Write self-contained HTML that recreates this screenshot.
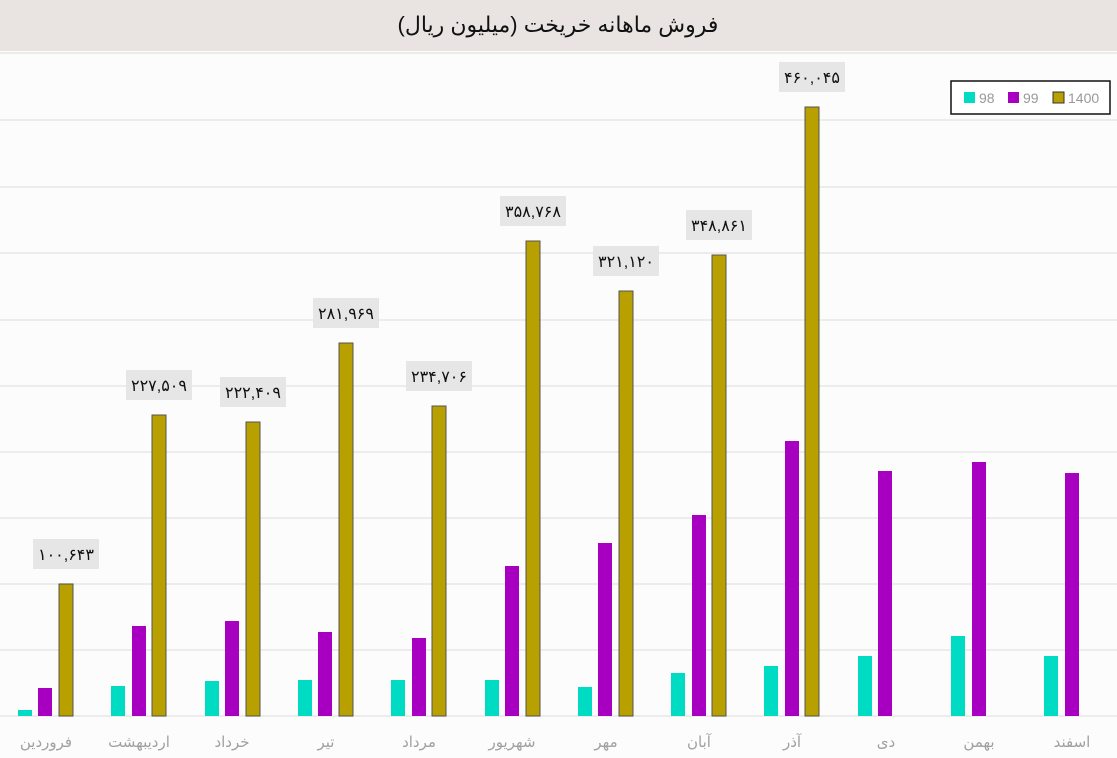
<!DOCTYPE html>
<html><head><meta charset="utf-8"><style>
body{margin:0;background:#fcfcfc;}
svg{display:block;font-family:"Liberation Sans","DejaVu Sans",sans-serif;}
</style></head><body>
<svg width="1117" height="758" viewBox="0 0 1117 758" xmlns="http://www.w3.org/2000/svg">
<rect width="1117" height="758" fill="#fcfcfc"/>
<rect width="1117" height="51" fill="#e9e4e2"/>
<text x="558" y="32" text-anchor="middle" font-size="22" fill="#111">فروش ماهانه خریخت (میلیون ریال)</text>
<g stroke="#ececec" stroke-width="2">
<line x1="0" x2="1117" y1="53" y2="53"/><line x1="0" x2="1117" y1="120" y2="120"/>
<line x1="0" x2="1117" y1="187" y2="187"/><line x1="0" x2="1117" y1="253" y2="253"/>
<line x1="0" x2="1117" y1="320" y2="320"/><line x1="0" x2="1117" y1="386" y2="386"/>
<line x1="0" x2="1117" y1="452" y2="452"/><line x1="0" x2="1117" y1="518" y2="518"/>
<line x1="0" x2="1117" y1="584" y2="584"/><line x1="0" x2="1117" y1="650" y2="650"/>
<line x1="0" x2="1117" y1="716" y2="716"/>
</g>
<g fill="#00dcc4">
<rect x="18" y="710" width="14" height="6"/><rect x="111" y="686" width="14" height="30"/>
<rect x="205" y="681" width="14" height="35"/><rect x="298" y="680" width="14" height="36"/>
<rect x="391" y="680" width="14" height="36"/><rect x="485" y="680" width="14" height="36"/>
<rect x="578" y="687" width="14" height="29"/><rect x="671" y="673" width="14" height="43"/>
<rect x="764" y="666" width="14" height="50"/><rect x="858" y="656" width="14" height="60"/>
<rect x="951" y="636" width="14" height="80"/><rect x="1044" y="656" width="14" height="60"/>
</g>
<g fill="#a800c0">
<rect x="38" y="688" width="14" height="28"/><rect x="132" y="626" width="14" height="90"/>
<rect x="225" y="621" width="14" height="95"/><rect x="318" y="632" width="14" height="84"/>
<rect x="412" y="638" width="14" height="78"/><rect x="505" y="566" width="14" height="150"/>
<rect x="598" y="543" width="14" height="173"/><rect x="692" y="515" width="14" height="201"/>
<rect x="785" y="441" width="14" height="275"/><rect x="878" y="471" width="14" height="245"/>
<rect x="972" y="462" width="14" height="254"/><rect x="1065" y="473" width="14" height="243"/>
</g>
<g fill="#b8a000" stroke="#555" stroke-width="1">
<rect x="59" y="584" width="14" height="132"/><rect x="152" y="415" width="14" height="301"/>
<rect x="246" y="422" width="14" height="294"/><rect x="339" y="343" width="14" height="373"/>
<rect x="432" y="406" width="14" height="310"/><rect x="526" y="241" width="14" height="475"/>
<rect x="619" y="291" width="14" height="425"/><rect x="712" y="255" width="14" height="461"/>
<rect x="805" y="107" width="14" height="609"/>
</g>
<g fill="#e6e6e6">
<rect x="33" y="539" width="66" height="30"/><rect x="126" y="370" width="66" height="30"/>
<rect x="220" y="377" width="66" height="30"/><rect x="313" y="298" width="66" height="30"/>
<rect x="406" y="361" width="66" height="30"/><rect x="500" y="196" width="66" height="30"/>
<rect x="593" y="246" width="66" height="30"/><rect x="686" y="210" width="66" height="30"/>
<rect x="779" y="62" width="66" height="30"/>
</g>
<g font-size="16" fill="#111" text-anchor="middle">
<text x="66" y="560">۱۰۰,۶۴۳</text><text x="159" y="391">۲۲۷,۵۰۹</text>
<text x="253" y="398">۲۲۲,۴۰۹</text><text x="346" y="319">۲۸۱,۹۶۹</text>
<text x="439" y="382">۲۳۴,۷۰۶</text><text x="533" y="217">۳۵۸,۷۶۸</text>
<text x="626" y="267">۳۲۱,۱۲۰</text><text x="719" y="231">۳۴۸,۸۶۱</text>
<text x="812" y="83">۴۶۰,۰۴۵</text>
</g>
<g font-size="15" fill="#a0a0a0" text-anchor="middle">
<text x="46" y="747">فروردین</text><text x="139" y="747">اردیبهشت</text><text x="232" y="747">خرداد</text>
<text x="326" y="747">تیر</text><text x="419" y="747">مرداد</text><text x="512" y="747">شهریور</text>
<text x="606" y="747">مهر</text><text x="699" y="747">آبان</text><text x="792" y="747">آذر</text>
<text x="886" y="747">دی</text><text x="979" y="747">بهمن</text><text x="1072" y="747">اسفند</text>
</g>
<rect x="951" y="81" width="159" height="33" fill="#fff" stroke="#111" stroke-width="1.5"/>
<rect x="964" y="92" width="11" height="11" fill="#00dcc4"/><text x="979" y="103" font-size="14" fill="#999">98</text>
<rect x="1008" y="92" width="11" height="11" fill="#a800c0"/><text x="1023" y="103" font-size="14" fill="#999">99</text>
<rect x="1053" y="92" width="11" height="11" fill="#b8a000" stroke="#333"/><text x="1068" y="103" font-size="14" fill="#999">1400</text>
</svg>
</body></html>
